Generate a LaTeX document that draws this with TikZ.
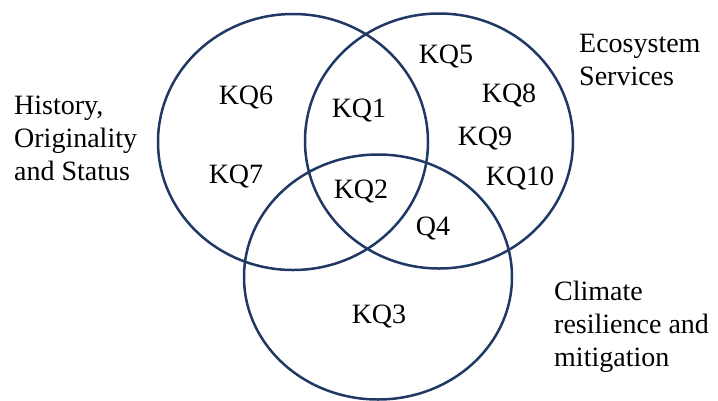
\documentclass[tikz,border=0pt]{standalone}
\usepackage{fontspec}
\setmainfont{Liberation Serif}
\usetikzlibrary{shapes.geometric}
\definecolor{navy}{HTML}{1F3864}
\begin{document}
\begin{tikzpicture}[x=1pt,y=-1pt,
  setc/.style={ellipse,draw=navy,line width=2.5pt,inner sep=0pt,outer sep=0pt},
  kq/.style={anchor=base,inner sep=0pt,font=\rmfamily\fontsize{28}{33}\selectfont},
  cat/.style={anchor=base west,inner sep=0pt,align=left,font=\rmfamily\fontsize{28}{33}\selectfont}]
\useasboundingbox (0,0) rectangle (718,400);
\node[setc,minimum width=270pt,minimum height=256pt] (hos) at (293,142) {};
\node[setc,minimum width=268pt,minimum height=255pt] (eco) at (439,141) {};
\node[setc,minimum width=268pt,minimum height=245pt] (cli) at (378,277) {};
\node[kq] (kq6) at (246,104) {KQ6};
\node[kq] (kq1) at (359,117) {KQ1};
\node[kq] (kq5) at (446,63) {KQ5};
\node[kq] (kq8) at (509,102) {KQ8};
\node[kq] (kq9) at (485,145) {KQ9};
\node[kq] (kq10) at (520,185) {KQ10};
\node[kq] (q4) at (433,235) {Q4};
\node[kq] (kq7) at (236,183) {KQ7};
\node[kq] (kq2) at (361,198) {KQ2};
\node[kq] (kq3) at (379,323) {KQ3};
\node[cat] (lhos) at (14,180) {History,\\Originality\\and Status};
\node[cat] (leco) at (579,85) {Ecosystem\\Services};
\node[cat] (lcli) at (554,366) {Climate\\resilience and\\mitigation};
\end{tikzpicture}
\end{document}
